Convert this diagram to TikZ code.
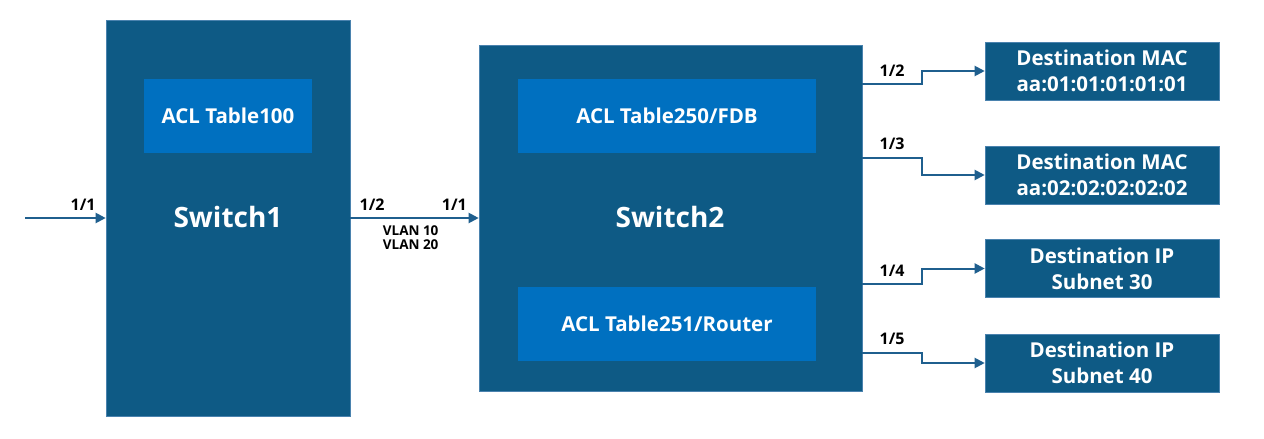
\documentclass[tikz,border=0pt]{standalone}
\usepackage{fontspec}
\setmainfont{Open Sans}
\usetikzlibrary{arrows.meta}
\definecolor{swdark}{HTML}{0E5A85}
\definecolor{acllight}{HTML}{0070C0}
\definecolor{wire}{HTML}{1F5F8E}
\definecolor{edge}{HTML}{4A82AE}
\tikzset{
  switchbox/.style={fill=swdark, draw=edge, line width=0.6pt, inner sep=0pt},
  switchtext/.style={text=white, font=\bfseries\fontsize{28}{32}\selectfont},
  aclbox/.style={fill=acllight, inner sep=0pt, text=white, font=\bfseries\fontsize{20.5}{24}\selectfont},
  destbox/.style={fill=swdark, draw=edge, line width=0.6pt, inner sep=0pt, text=white, align=center, minimum width=234pt, minimum height=58pt, font=\bfseries\fontsize{20.5}{26}\selectfont},
  wirearrow/.style={draw=wire, line width=2pt, -{Triangle[length=10pt,width=10pt]}},
  port/.style={font=\bfseries\fontsize{16}{18}\selectfont, text=black, inner sep=3pt, yshift=4pt},
  vlan/.style={font=\bfseries\fontsize{13.5}{13.5}\selectfont, text=black, align=center, inner sep=2pt, yshift=-5pt}
}
\begin{document}
\begin{tikzpicture}[x=1pt,y=-1pt]
\useasboundingbox[fill=white] (0,0) rectangle (1264,439);
% switches
\node[switchbox, minimum width=244pt, minimum height=396pt] (s1) at (228,218) {};
\node[switchtext] (s1t) at (228,217) {Switch1};
\node[aclbox, minimum width=168pt, minimum height=74pt] (acl100) at (228,116) {ACL Table100};
\node[switchbox, minimum width=383pt, minimum height=346pt] (s2) at (670.5,218) {};
\node[switchtext] (s2t) at (670,217) {Switch2};
\node[aclbox, minimum width=298pt, minimum height=74pt] (acl250) at (667,116) {ACL Table250/FDB};
\node[aclbox, minimum width=298pt, minimum height=74pt] (acl251) at (667,323.5) {ACL Table251/Router};
% destinations
\node[destbox] (d1) at (1102,71) {Destination MAC\\aa:01:01:01:01:01};
\node[destbox] (d2) at (1102,175) {Destination MAC\\aa:02:02:02:02:02};
\node[destbox] (d3) at (1102,268.5) {Destination IP\\Subnet 30};
\node[destbox] (d4) at (1102,363) {Destination IP\\Subnet 40};
% input
\coordinate (in) at (25,218);
\draw[wirearrow] (in) -- node[port, above, pos=0.72] {1/1} (s1.west);
% inter-switch link
\draw[wirearrow] (s1.east) -- node[port, above, pos=0.17] {1/2}
  node[port, above, pos=0.81] {1/1}
  node[vlan, below, pos=0.47] {VLAN 10\\VLAN 20} (s2.west);
% outputs
\coordinate (o2) at (922,84);
\coordinate (o3) at (922,158);
\coordinate (o4) at (922,284);
\coordinate (o5) at (922,353);
\draw[wirearrow] (s2.east |- o2) -- node[port, above] {1/2} (o2) |- (d1.west);
\draw[wirearrow] (s2.east |- o3) -- node[port, above] {1/3} (o3) |- (d2.west);
\draw[wirearrow] (s2.east |- o4) -- node[port, above] {1/4} (o4) |- (d3.west);
\draw[wirearrow] (s2.east |- o5) -- node[port, above] {1/5} (o5) |- (d4.west);
\end{tikzpicture}
\end{document}
